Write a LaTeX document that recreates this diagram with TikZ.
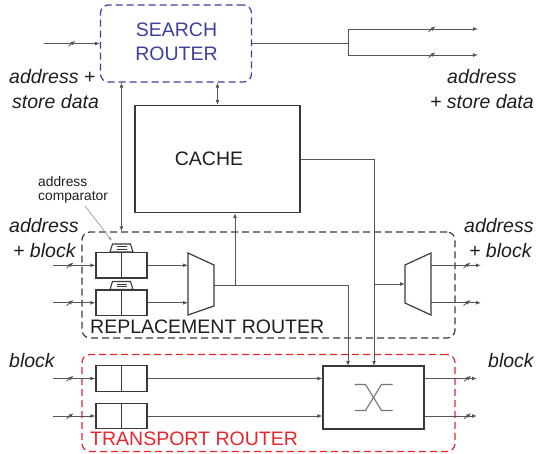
\documentclass[tikz,border=0pt]{standalone}
\usepackage{fontspec}
\setmainfont{Liberation Sans}
\usetikzlibrary{arrows.meta,decorations.markings,calc}
\definecolor{wirec}{HTML}{555555}
\definecolor{bluec}{HTML}{3C3F9E}
\definecolor{redc}{HTML}{E8262C}
\definecolor{boxc}{HTML}{3A3A3A}
\definecolor{txtc}{HTML}{1E1E1E}
\definecolor{ptrc}{HTML}{9A9A9A}
\begin{document}
\begin{tikzpicture}[x=1pt,y=-1pt,
  wire/.style={draw=wirec, line width=0.9pt},
  arr/.style={wire,-{Latex[length=5pt,width=4pt]}},
  darr/.style={wire,{Latex[length=5pt,width=4pt]}-{Latex[length=5pt,width=4pt]}},
  box/.style={draw=boxc, line width=1.2pt, fill=white, inner sep=0pt},
  reg/.style={box, minimum width=51pt, minimum height=25.5pt},
  region/.style={line width=1.2pt, dash pattern=on 7pt off 4pt, rounded corners=8pt, inner sep=0pt},
  big/.style={font=\fontsize{19.5}{24}\selectfont, text=txtc, inner sep=0pt},
  lab/.style={font=\fontsize{19.5}{24}\selectfont\itshape, text=txtc, inner sep=0pt},
  small/.style={font=\fontsize{13.8}{16}\selectfont, text=txtc, inner sep=0pt},
  slashat/.style={postaction={decorate,decoration={markings,mark=at position #1 with {\draw[wirec,line width=0.8pt] (-3.5pt,-2.8pt)--(3.5pt,2.8pt);}}}},
]
\useasboundingbox (0,0) rectangle (538,453);

% regions
\node[region, draw=bluec, minimum width=151pt, minimum height=77pt] (search) at (176,43.5) {};
\node[region, draw=boxc, minimum width=373pt, minimum height=106pt] (reprouter) at (268.5,285) {};
\node[region, draw=redc, minimum width=373pt, minimum height=97pt] (transrouter) at (268.5,403) {};

% blocks
\node[box, minimum width=165pt, minimum height=107pt] (cache) at (217.5,159) {};
\node[reg] (reg1) at (121.5,265.3) {};
\node[reg] (reg2) at (121.5,302.8) {};
\node[reg] (reg3) at (121.5,378.5) {};
\node[reg] (reg4) at (121.5,416) {};
\node[box, minimum width=101pt, minimum height=63pt] (xbar) at (373.5,397.5) {};

% ports
\coordinate (si) at (44,43.5);
\coordinate (split) at (348,43.5);
\coordinate (so1) at (478,29);
\coordinate (so2) at (478,55);
\coordinate (ri1) at (53,265.3);
\coordinate (ri2) at (53,302.8);
\coordinate (ti1) at (53,378.5);
\coordinate (ti2) at (53,416);
\coordinate (muxin1) at (188,265.3);
\coordinate (muxin2) at (188,302.8);
\coordinate (muxout) at (214,285);
\coordinate (br1) at (235,285);
\coordinate (xtop1) at (348,366);
\coordinate (xtop2) at (374,366);
\coordinate (br2) at (374,284);
\coordinate (demuxin) at (405,284);
\coordinate (dmo1) at (431,265.3);
\coordinate (dmo2) at (431,302.8);
\coordinate (ro1) at (481,265.3);
\coordinate (ro2) at (481,302.8);
\coordinate (to1) at (477,378.5);
\coordinate (to2) at (477,416);
\coordinate (ptrstart) at (85,206);
\coordinate (ptrend) at (112,241);

% wires: search router
\draw[arr, slashat=28pt] (si) -- (search.west);
\draw[wire] (search.east) -- (split);
\draw[wire] (split |- so1) -- (split |- so2);
\draw[arr, slashat=84pt] (split |- so1) -- (so1);
\draw[arr, slashat=84pt] (split |- so2) -- (so2);
\draw[darr] (cache.north) -- (cache.north |- search.south);
\draw[darr] (search.south -| reg1.center) -- (reprouter.north -| reg1.center);

% wires: replacement router
\draw[arr, slashat=17pt] (ri1) -- (reg1.west);
\draw[arr, slashat=17pt] (ri2) -- (reg2.west);
\draw[arr] (reg1.east) -- (muxin1);
\draw[arr] (reg2.east) -- (muxin2);
\draw[arr] (muxout) -| (xtop1);
\draw[arr] (br1) -- (br1 |- cache.south);
\draw[arr] (cache.east) -| (xtop2);
\draw[arr] (br2) -- (demuxin);
\draw[arr, slashat=36pt] (dmo1) -- (ro1);
\draw[arr, slashat=36pt] (dmo2) -- (ro2);

% wires: transport router
\draw[arr, slashat=17pt] (ti1) -- (reg3.west);
\draw[arr, slashat=17pt] (ti2) -- (reg4.west);
\draw[arr] (reg3.east) -- (reg3.east -| xbar.west);
\draw[arr] (reg4.east) -- (reg4.east -| xbar.west);
\draw[arr, slashat=43pt] (reg3.east -| xbar.east) -- (to1);
\draw[arr, slashat=43pt] (reg4.east -| xbar.east) -- (to2);

% register dividers
\foreach \r in {reg1,reg2,reg3,reg4}{
  \draw[boxc, line width=1.2pt] (\r.north) -- (\r.south);
}
% comparators
\foreach \r in {reg1,reg2}{
  \draw[box, line width=1.1pt] ($(\r.north)+(-11.5,0)$) -- ++(2.5,-8) -- ++(18,0) -- ++(2.5,8) -- cycle;
  \draw[boxc, line width=1.1pt] ($(\r.north)+(-5,-5.2)$) -- ++(10,0);
  \draw[boxc, line width=1.1pt] ($(\r.north)+(-5,-2.8)$) -- ++(10,0);
}

% mux / demux
\draw[box] (188,253) -- (214,265) -- (214,306) -- (188,315) -- cycle;
\draw[box] (405,265) -- (431,253) -- (431,315) -- (405,303) -- cycle;

% crossbar symbol
\draw[draw=wirec!80, line width=1.1pt] ($(xbar.center)+(-19,-13)$) -- ++(11,0) -- ++(16,26) -- ++(11,0);
\draw[draw=wirec!80, line width=1.1pt] ($(xbar.center)+(-19,13)$) -- ++(11,0) -- ++(16,-26) -- ++(11,0);

% comparator pointer
\draw[draw=ptrc, line width=0.7pt, -{Latex[length=4pt,width=3pt]}] (ptrstart) -- (ptrend);

% texts
\node[big, text=bluec, anchor=base] (t1) at (176.5,36) {SEARCH};
\node[big, text=bluec, anchor=base] (t2) at (176.5,60) {ROUTER};
\node[big, anchor=base] (t3) at (209,165.7) {CACHE};
\node[big, anchor=base west] (t4) at (90,333) {REPLACEMENT ROUTER};
\node[big, text=redc, anchor=base west] (t5) at (90,445) {TRANSPORT ROUTER};
\node[small, anchor=base west] (c1) at (38,186.7) {address};
\node[small, anchor=base west] (c2) at (38,200) {comparator};

\node[lab, anchor=base west] (l1) at (9,83) {address +};
\node[lab, anchor=base west] (l2) at (12,108) {store data};
\node[lab, anchor=base west] (l3) at (447,83) {address};
\node[lab, anchor=base west] (l4) at (430,108) {+ store data};
\node[lab, anchor=base west] (l5) at (9,232.5) {address};
\node[lab, anchor=base west] (l6) at (13,257) {+ block};
\node[lab, anchor=base west] (l7) at (464,232) {address};
\node[lab, anchor=base west] (l8) at (469,257) {+ block};
\node[lab, anchor=base west] (l9) at (9,367) {block};
\node[lab, anchor=base west] (l10) at (488,367) {block};
\end{tikzpicture}
\end{document}
